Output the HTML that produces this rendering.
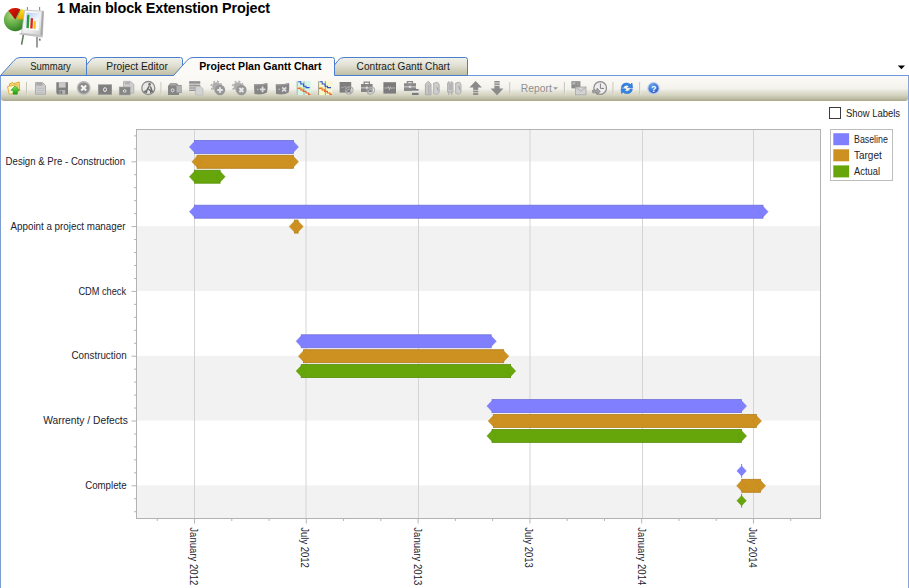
<!DOCTYPE html>
<html>
<head>
<meta charset="utf-8">
<title>1 Main block Extenstion Project</title>
<style>
html,body{margin:0;padding:0;background:#fff;}
body{width:909px;height:588px;overflow:hidden;position:relative;font-family:"Liberation Sans",sans-serif;}
#app{position:absolute;left:0;top:0;width:909px;height:588px;overflow:hidden;background:#fff;}
#title{position:absolute;left:57px;top:-0.3px;font-size:14.4px;font-weight:bold;color:#000;white-space:nowrap;letter-spacing:-0.12px;line-height:16px;}
#panel{position:absolute;left:0;top:75px;width:907px;height:520px;border:1px solid #6b98dc;border-left-color:#7c9ed2;border-right-color:#86a4d4;background:#fff;}
#toolbar{position:absolute;left:1px;top:76px;width:906.5px;height:25px;border-radius:0 0 3px 3px;
 background:linear-gradient(to bottom,#fbfaf6 0%,#f7f6f1 30%,#f2f1ec 52%,#e5e4da 60%,#d3d2bf 78%,#bab9a0 92%,#a9a88f 100%);}
svg{position:absolute;left:0;top:0;}
text{font-family:"Liberation Sans",sans-serif;}
</style>
</head>
<body>
<div id="app">
<div id="title">1 Main block Extenstion Project</div>
<div id="panel"></div>
<div id="toolbar"></div>

<!-- TABS -->
<svg id="tabs" width="909" height="110" viewBox="0 0 909 110">
<defs>
<linearGradient id="tg" x1="0" y1="0" x2="0" y2="1">
<stop offset="0" stop-color="#f3f2ec"/><stop offset="0.45" stop-color="#e0dfd2"/><stop offset="1" stop-color="#bebda2"/>
</linearGradient>
</defs>
<!-- tab 4 -->
<path d="M326.5 75.5 L338 60.5 Q340 57.5 344 57.5 L465.5 57.5 Q467.5 57.5 467.5 59.5 L467.5 75.5 Z" fill="url(#tg)" stroke="#4a7fd0" stroke-width="1"/>
<!-- tab 2 -->
<path d="M78.5 75.5 L90 60.5 Q92 57.5 96 57.5 L180.5 57.5 Q182.5 57.5 182.5 59.5 L182.5 75.5 Z" fill="url(#tg)" stroke="#4a7fd0" stroke-width="1"/>
<!-- tab 1 -->
<path d="M0.5 75.5 L14 60.5 Q16.5 57.5 20 57.5 L84.5 57.5 Q86.5 57.5 86.5 59.5 L86.5 75.5 Z" fill="url(#tg)" stroke="#4a7fd0" stroke-width="1"/>
<!-- tab 3 active -->
<path d="M173.5 76 L187 60.5 Q189.5 57.5 193 57.5 L332.5 57.5 Q334.5 57.5 334.5 59.5 L334.5 76 Z" fill="#fbfaf7" stroke="none"/>
<path d="M173.5 75.5 L187 60.5 Q189.5 57.5 193 57.5 L332.5 57.5 Q334.5 57.5 334.5 59.5 L334.5 75.5" fill="none" stroke="#4a7fd0" stroke-width="1"/>
<g font-size="10.5" fill="#1a1a1a">
<text x="30.3" y="70" textLength="40.5" lengthAdjust="spacingAndGlyphs">Summary</text>
<text x="106.3" y="70" textLength="61.5" lengthAdjust="spacingAndGlyphs">Project Editor</text>
<text x="199.3" y="70" textLength="122.2" lengthAdjust="spacingAndGlyphs" font-weight="bold" fill="#000">Project Plan Gantt Chart</text>
<text x="356.6" y="70" textLength="93.2" lengthAdjust="spacingAndGlyphs">Contract Gantt Chart</text>
</g>
<!-- dropdown arrow -->
<path d="M897.8 65.6 L905 65.6 L901.4 69.3 Z" fill="#000"/>
</svg>

<!--LOGO-->
<svg id="logo" width="60" height="54" viewBox="0 0 60 54">
<defs>
<radialGradient id="pg" cx="0.35" cy="0.3" r="0.85"><stop offset="0" stop-color="#a9d77c"/><stop offset="0.55" stop-color="#58a53e"/><stop offset="1" stop-color="#1f6b1c"/></radialGradient>
<linearGradient id="pr" x1="0" y1="0" x2="1" y2="1"><stop offset="0" stop-color="#f01808"/><stop offset="1" stop-color="#8e0a04"/></linearGradient>
<linearGradient id="py" x1="0" y1="0" x2="0" y2="1"><stop offset="0" stop-color="#ffe818"/><stop offset="1" stop-color="#eaa408"/></linearGradient>
<linearGradient id="bd" x1="0" y1="0" x2="1" y2="1"><stop offset="0" stop-color="#ffffff"/><stop offset="0.6" stop-color="#ececec"/><stop offset="1" stop-color="#c4c4c4"/></linearGradient>
<linearGradient id="sc" x1="0" y1="0" x2="0.6" y2="1"><stop offset="0" stop-color="#a9c6ee"/><stop offset="0.6" stop-color="#eef4fc"/><stop offset="1" stop-color="#ffffff"/></linearGradient>
</defs>
<!-- pie -->
<circle cx="15.3" cy="19.8" r="11.4" fill="url(#pg)"/>
<path d="M15.3 19.4 L8.3 10.4 A11.4 11.4 0 0 1 20.2 9.2 Z" fill="url(#pr)"/>
<path d="M17 19.2 L21.3 8.6 A11.4 11.4 0 0 1 28 17.2 L26 19.4 Z" fill="url(#py)"/>
<!-- easel -->
<path d="M27.4 10.4 V7 M39.6 10.4 V7" stroke="#8f8f8f" stroke-width="1.1"/>
<path d="M23.4 34.6 L21.6 44.6" stroke="#5f7f58" stroke-width="1.6"/>
<path d="M37 37 L37 47.6" stroke="#8c8c8c" stroke-width="1.7"/>
<path d="M39.6 38.6 L40 40.6" stroke="#666" stroke-width="1.5"/>
<path d="M24.6 10.2 L43.6 11.2 L42.4 35.6 L21.6 33.2 Z" fill="url(#bd)" stroke="#b4b4b4" stroke-width="0.7"/>
<path d="M41.8 11.4 L43.6 11.4 L42.4 35.6 L40.4 35.2 Z" fill="#a9a9a9"/>
<path d="M19.6 33 L42.8 35.8 L42.6 37.4 L19.4 34.4 Z" fill="#bfbfbf"/>
<path d="M26.6 12.8 L39.4 13.2 L38.6 30.4 L24.2 29.4 Z" fill="url(#sc)"/>
<path d="M27.2 15.2 Q28.4 14.4 29.4 15.2 L28.8 28.2 L26.4 28 Z" fill="#249a3a"/>
<path d="M30.8 18.4 Q32 17.6 33 18.4 L32.6 28.6 L30.2 28.4 Z" fill="#e0201a"/>
<path d="M33.8 21.2 Q34.8 20.6 35.8 21.2 L35.6 29 L33.4 28.8 Z" fill="#f0c010"/>
</svg>

<!--/LOGO-->
<!--ICONS-->
<svg id="icons" width="909" height="110" viewBox="0 0 909 110">
<defs>
<linearGradient id="fold" x1="0" y1="0" x2="1" y2="1"><stop offset="0" stop-color="#fff3b8"/><stop offset="1" stop-color="#e9b93a"/></linearGradient>
<linearGradient id="garr" x1="0" y1="0" x2="0" y2="1"><stop offset="0" stop-color="#7be85a"/><stop offset="1" stop-color="#16a012"/></linearGradient>
<radialGradient id="helpg" cx="0.4" cy="0.3" r="0.8"><stop offset="0" stop-color="#6aa8f4"/><stop offset="1" stop-color="#1c54c4"/></radialGradient>
</defs>
<!-- separators -->
<g stroke="#c5c3b2" stroke-width="1">
<line x1="26.5" y1="82" x2="26.5" y2="94.5"/><line x1="161" y1="82" x2="161" y2="94.5"/><line x1="509.8" y1="82" x2="509.8" y2="94.5"/>
<line x1="564.4" y1="82" x2="564.4" y2="94.5"/><line x1="613" y1="82" x2="613" y2="94.5"/><line x1="639.7" y1="82" x2="639.7" y2="94.5"/>
</g>
<g stroke="#fdfdfb" stroke-width="1" opacity="0.35">
<line x1="27.5" y1="82.5" x2="27.5" y2="95"/><line x1="162" y1="82.5" x2="162" y2="95"/><line x1="510.8" y1="82.5" x2="510.8" y2="95"/>
<line x1="565.4" y1="82.5" x2="565.4" y2="95"/><line x1="614" y1="82.5" x2="614" y2="95"/><line x1="640.7" y1="82.5" x2="640.7" y2="95"/>
</g>
<!-- 1 folder -->
<g>
<path d="M9.4 84 L12.6 82.4 L14 83.6 L19.2 82 L19.7 90.6 L10.4 93.4 Z" fill="#f6d777" stroke="#d9a528" stroke-width="0.9"/>
<path d="M7.5 86.6 L16.9 84.6 L17.8 92.6 L9.3 94.4 Z" fill="#fff6d2" stroke="#e0ad2c" stroke-width="0.9"/>
<path d="M15.2 85.8 L19.4 90.3 L17.3 90.3 L17.3 94.2 L13.1 94.2 L13.1 90.3 L10.9 90.3 Z" fill="url(#garr)" stroke="#2a9a1c" stroke-width="0.6"/>
</g>
<!-- 2 page -->
<g>
<path d="M35.5 82.5 L42.5 82.5 L45.5 85.5 L45.5 94.3 L35.5 94.3 Z" fill="#cbcbcb" stroke="#a6a6a6" stroke-width="0.9"/>
<rect x="36.5" y="83" width="6" height="2.6" fill="#a9a9a9"/>
<path d="M37 88.5 H44 M37 90.5 H44 M37 92.5 H44" stroke="#bdbdbd" stroke-width="0.8"/>
</g>
<!-- 3 floppy -->
<g>
<path d="M56.3 82.2 H68 V94.4 H57.6 L56.3 93.1 Z" fill="#808080"/>
<rect x="58.8" y="82.2" width="6.8" height="5.4" fill="#c9c9c9"/>
<rect x="59.6" y="90" width="5.6" height="4.4" fill="#b4b4b4"/>
<rect x="60.4" y="90.9" width="1.8" height="2.9" fill="#767676"/>
</g>
<!-- 4 circle x -->
<g>
<circle cx="83.7" cy="88" r="6.9" fill="#b9b9b9"/>
<circle cx="83.7" cy="88" r="5.6" fill="#8c8c8c"/>
<path d="M81.2 85.5 L86.2 90.5 M86.2 85.5 L81.2 90.5" stroke="#f4f4f4" stroke-width="2"/>
</g>
<!-- 5 rect 0 -->
<g>
<rect x="98" y="84.3" width="14" height="10.6" fill="#9c9c9c"/>
<rect x="98.8" y="85.1" width="12.4" height="9" fill="#808080"/>
<ellipse cx="105" cy="89.6" rx="1.5" ry="1.9" fill="none" stroke="#f0f0f0" stroke-width="1"/>
</g>
<!-- 6 page + rect -->
<g>
<path d="M123.5 81.4 L130.8 81.4 L133.8 84.4 L133.8 93.2 L123.5 93.2 Z" fill="#cdcdcd" stroke="#a9a9a9" stroke-width="0.8"/>
<rect x="125" y="82.2" width="5" height="2" fill="#adadad"/>
<rect x="119.2" y="87" width="11" height="8" fill="#868686" stroke="#a4a4a4" stroke-width="0.6"/>
<ellipse cx="124.7" cy="91" rx="1.4" ry="1.3" fill="none" stroke="#e6e6e6" stroke-width="0.9"/>
</g>
<!-- 7 circle worker -->
<g>
<circle cx="148.3" cy="88" r="6.5" fill="#e9e9e6" stroke="#8c8c8c" stroke-width="1.3"/>
<circle cx="149.6" cy="84.4" r="1.3" fill="#6c6c6c"/>
<path d="M149.2 86 L147 90 L146.2 93 M148.4 89.2 L150.6 90.6 L150.8 93.2 M150.4 86.6 L152.6 92.6" stroke="#6c6c6c" stroke-width="1.5" fill="none"/>
<path d="M143.2 92.8 L145.2 89.8 L147.2 92.8 Z" fill="#747474"/>
</g>
<!-- 8 camera -->
<g>
<path d="M168 86 L170.2 83.2 L176.5 83.2 L178.5 85 L181.6 85 L181.6 93 L179 93 L179 95 L168 95 Z" fill="#858585"/>
<path d="M176.5 85.6 L181 85.6 L181 92.4 L176.5 92.4 Z" fill="#b3b3b3"/>
<path d="M170.3 84 L176 84 L177.6 85.4 L169.4 85.4 Z" fill="#a7a7a7"/>
<ellipse cx="172.6" cy="90.3" rx="1.4" ry="1.5" fill="none" stroke="#eaeaea" stroke-width="0.9"/>
</g>
<!-- 9 table + page -->
<g>
<rect x="189.2" y="81.3" width="11" height="9.6" fill="#c9c9c9"/>
<rect x="189.2" y="81.3" width="11" height="2.2" fill="#8d8d8d"/>
<path d="M189.2 85.6 H200.2 M189.2 88 H200.2 M189.2 90.4 H196" stroke="#8f8f8f" stroke-width="1"/>
<path d="M194.8 81.3 V90.6" stroke="#a5a5a5" stroke-width="0.6"/>
<path d="M195.6 86.4 L200.6 86.4 L203 88.8 L203 95 L195.6 95 Z" fill="#d3d3d3" stroke="#b5b5b5" stroke-width="0.7"/>
</g>
<!-- 10 gear + -->
<g>
<circle cx="216.4" cy="86.4" r="4.1" fill="#adadad"/>
<circle cx="216.4" cy="86.4" r="5.1" fill="none" stroke="#b3b3b3" stroke-width="1.7" stroke-dasharray="2 2"/>
<circle cx="220" cy="90" r="5.2" fill="#979797"/>
</g>
<path d="M220 87.2 V92.8 M217.2 90 H222.8" stroke="#e4e4e4" stroke-width="1.9"/>
<!-- 11 gear x -->
<g transform="translate(21.4 0)">
<circle cx="216.4" cy="86.4" r="4.1" fill="#adadad"/>
<circle cx="216.4" cy="86.4" r="5.1" fill="none" stroke="#b3b3b3" stroke-width="1.7" stroke-dasharray="2 2"/>
<circle cx="220" cy="90" r="5.2" fill="#979797"/>
</g>
<path d="M239.4 88 L243.4 92 M243.4 88 L239.4 92" stroke="#e9e9e9" stroke-width="1.8"/>
<!-- 12 rect + -->
<g>
<path d="M254 84.2 Q260.5 84.8 267.4 83 Q268 88.5 267 92.5 Q262.5 95.3 254.4 94 Z" fill="#858585"/>
<path d="M254.6 85 Q260.5 85.6 266.8 83.9" stroke="#a4a4a4" stroke-width="0.8" fill="none"/>
</g>
<path d="M262.6 86.6 V92.2 M259.8 89.4 H265.4" stroke="#dcdcdc" stroke-width="1.8"/>
<circle cx="257.6" cy="89.4" r="0.9" fill="#b5b5b5"/>
<!-- 13 rect x -->
<g transform="translate(21.7 0)">
<path d="M254 84.2 Q260.5 84.8 267.4 83 Q268 88.5 267 92.5 Q262.5 95.3 254.4 94 Z" fill="#858585"/>
<path d="M254.6 85 Q260.5 85.6 266.8 83.9" stroke="#a4a4a4" stroke-width="0.8" fill="none"/>
</g>
<path d="M282.2 87.4 L286.2 91.4 M286.2 87.4 L282.2 91.4" stroke="#dcdcdc" stroke-width="1.7"/>
<circle cx="279.2" cy="89.4" r="0.9" fill="#b5b5b5"/>
<!-- 14 chart cyan -->
<g>
<rect x="296.6" y="81.2" width="14.2" height="13.8" fill="#d4f4e6"/>
<path d="M297.2 81.2 V95 M304 81.2 V95" stroke="#9aa7a0" stroke-width="0.8"/>
<path d="M298.2 81.8 H300.8 V84 H303.6 V86.2 H306 V87.6 H309.6" stroke="#2a50d4" stroke-width="1.05" fill="none"/>
<path d="M297.6 88.4 H300.8 V89.8 H303.2 V91.4 H306 V93 H308.6 V94.4 H310.6" stroke="#e8632a" stroke-width="1.15" fill="none"/>
<path d="M297.6 87.6 H300.8 V89 H303.2" stroke="#f0b64a" stroke-width="0.8" fill="none"/>
</g>
<!-- 15 chart yellow -->
<g transform="translate(21.4 0)">
<rect x="296.6" y="81.2" width="14.2" height="13.8" fill="#f7f7c9"/>
<path d="M297.2 81.2 V95 M304 81.2 V95" stroke="#8a8a78" stroke-width="0.8"/>
<path d="M298.2 81.8 H300.8 V84 H303.6 V86.2 H306 V87.6 H309.6" stroke="#2a50d4" stroke-width="1.05" fill="none"/>
<path d="M297.6 88.4 H300.8 V89.8 H303.2 V91.4 H306 V93 H308.6 V94.4 H310.6" stroke="#e8632a" stroke-width="1.15" fill="none"/>
<path d="M297.6 87.6 H300.8 V89 H303.2" stroke="#f0b64a" stroke-width="0.8" fill="none"/>
</g>
<!-- 16 dark rect + clip -->
<g>
<rect x="339.6" y="82" width="11.6" height="10.6" fill="#7e7e7e"/>
<path d="M341 87.4 H344 L345 86 L346.2 88.8 L347 87.4 H349.6" stroke="#a8a8a8" stroke-width="0.8" fill="none"/>
<ellipse cx="349.2" cy="90.4" rx="4" ry="3.4" fill="none" stroke="#a6a6a6" stroke-width="1.1" transform="rotate(-35 349.2 90.4)"/>
<ellipse cx="348.6" cy="91" rx="2.2" ry="1.7" fill="none" stroke="#b4b4b4" stroke-width="0.9" transform="rotate(-35 348.6 91)"/>
</g>
<!-- 17 briefcase + clip -->
<g>
<path d="M364.2 84.2 V82.2 H369.4 V84.2" stroke="#858585" stroke-width="1.3" fill="none"/>
<rect x="361" y="84" width="11.6" height="8" fill="#858585"/>
<rect x="361" y="87.2" width="11.6" height="1.2" fill="#c4c4c4"/>
<rect x="365.8" y="86.6" width="2.2" height="2.4" fill="#d9d9d9"/>
<ellipse cx="370.8" cy="90.6" rx="4" ry="3.4" fill="none" stroke="#a8a8a8" stroke-width="1.1" transform="rotate(-35 370.8 90.6)"/>
<ellipse cx="370.2" cy="91.2" rx="2.2" ry="1.7" fill="none" stroke="#b8b8b8" stroke-width="0.9" transform="rotate(-35 370.2 91.2)"/>
</g>
<!-- 18 dark rect wave -->
<g>
<rect x="383.4" y="82.2" width="12.6" height="11.4" fill="#7c7c7c"/>
<path d="M384.4 88 H387.6 L388.4 86.4 L389.4 89.8 L390.4 86.8 L391.2 88.6 L391.8 88 H395" stroke="#c9c9c9" stroke-width="0.8" fill="none"/>
</g>
<!-- 19 briefcase + rect -->
<g>
<path d="M407.4 83.4 V81.6 H412.4 V83.4" stroke="#8a8a8a" stroke-width="1.3" fill="none"/>
<rect x="404" y="83.2" width="12" height="7.8" fill="#8a8a8a"/>
<rect x="404" y="86.2" width="12" height="1.2" fill="#c6c6c6"/>
<rect x="408.8" y="85.6" width="2.2" height="2.4" fill="#dadada"/>
<rect x="412" y="89" width="6.6" height="6" fill="#e6e6e6"/>
<rect x="412" y="89" width="6.6" height="1.6" fill="#7a7a7a"/>
<rect x="412" y="92.8" width="6.6" height="2.2" fill="#7a7a7a"/>
</g>
<!-- 20 columns -->
<g>
<path d="M425.4 84.2 L428.2 81.2 L431 84.2 V94.8 H425.4 Z" fill="#c6c6c6" stroke="#a2a2a2" stroke-width="0.8"/>
<path d="M433.6 83.2 L437.6 82.2 L439.2 84.4 V92.6 L436.8 94.6 L433.6 93.4 Z" fill="#cdcdcd" stroke="#a7a7a7" stroke-width="0.8"/>
<path d="M428.8 85 V94" stroke="#adadad" stroke-width="1"/>
<path d="M436.8 87 L438.4 90.6" stroke="#9a9a9a" stroke-width="0.9"/>
</g>
<!-- 21 columns2 -->
<g>
<path d="M447.6 82.8 H453 V92.2 H447.6 Z" fill="#c9c9c9" stroke="#a2a2a2" stroke-width="0.8"/>
<path d="M448.8 81.2 V82.8 M451.8 81.2 V82.8 M448.8 92.2 V95 M451.8 92.2 V95" stroke="#a2a2a2" stroke-width="0.9"/>
<rect x="448.6" y="84" width="3.4" height="6" fill="#b5b5b5"/>
<path d="M455.6 83 L459.6 82.2 L461 84.4 V92.4 L458.8 94.4 L455.6 93.2 Z" fill="#cdcdcd" stroke="#a7a7a7" stroke-width="0.8"/>
<path d="M458.6 86 L460.2 90" stroke="#9a9a9a" stroke-width="0.9"/>
</g>
<!-- 22 up arrow -->
<g>
<path d="M475.6 81 L481.9 87.4 H478.2 V95 H473.2 V87.4 H469.4 Z" fill="#8b8b8b"/>
<path d="M473.2 90.4 H478.2 M473.2 92.7 H478.2" stroke="#d7d6cb" stroke-width="0.9"/>
</g>
<!-- 23 down arrow -->
<g>
<path d="M497 95.2 L503.4 88.6 H499.6 V81 H494.4 V88.6 H490.6 Z" fill="#8b8b8b"/>
<path d="M494.4 83 H499.6 M494.4 85.4 H499.6" stroke="#efeee8" stroke-width="0.9"/>
</g>
<!-- Report -->
<text x="520.8" y="91.6" font-size="11" fill="#8f8f8f" textLength="31" lengthAdjust="spacingAndGlyphs">Report</text>
<path d="M553 87.2 H558 L555.5 89.8 Z" fill="#9a9a9a"/>
<!-- 24 mail -->
<g>
<rect x="571.4" y="81.2" width="9" height="7.2" fill="#8c8c8c"/>
<rect x="572.4" y="82.2" width="3" height="2.4" fill="#b8b8b8"/>
<path d="M576.6 83 H579.4 M576.6 84.6 H579.4" stroke="#b0b0b0" stroke-width="0.7"/>
<rect x="575.4" y="87" width="10.6" height="7.8" fill="#d2d2d2" stroke="#a6a6a6" stroke-width="0.8"/>
<path d="M575.4 87 L580.7 91.4 L586 87" stroke="#a6a6a6" stroke-width="0.8" fill="none"/>
</g>
<!-- 25 clock -->
<g>
<circle cx="600.2" cy="88" r="6.3" fill="#ededed" stroke="#8c8c8c" stroke-width="1.2"/>
<path d="M600.4 83.6 V88.4 H604" stroke="#808080" stroke-width="1" fill="none"/>
<path d="M592.6 90 H597 V88 L600.4 91.4 L597 94.8 V92.8 H592.6 Z" fill="#a2a2a2" stroke="#7f7f7f" stroke-width="0.6"/>
</g>
<!-- 26 refresh -->
<g>
<path d="M621.2 87.4 Q622 83.2 626.4 83 Q629 83 630.6 84.6 L632 83 L632.6 88 L627.6 87.6 L629 86.2 Q628 85.2 626.4 85.2 Q623.8 85.4 623.4 87.6 Z" fill="#2f86e8" stroke="#1b5cc2" stroke-width="0.5"/>
<path d="M632.4 89.2 Q631.6 93.4 627.2 93.6 Q624.6 93.6 623 92 L621.6 93.6 L621 88.6 L626 89 L624.6 90.4 Q625.6 91.4 627.2 91.4 Q629.8 91.2 630.2 89 Z" fill="#2f86e8" stroke="#1b5cc2" stroke-width="0.5"/>
</g>
<!-- 27 help -->
<g>
<circle cx="653.5" cy="88.3" r="6.2" fill="#b7cbea"/>
<circle cx="653.5" cy="88.3" r="5" fill="url(#helpg)"/>
<text x="651.2" y="91.6" font-size="8.5" font-weight="bold" fill="#fff">?</text>
</g>
</svg>

<!--/ICONS-->
<!--CHART-->
<svg id="chart" width="909" height="588" viewBox="0 0 909 588">
<rect x="136.5" y="129.5" width="684.0" height="389.0" fill="#fff"/>
<rect x="136.5" y="129.50" width="684.0" height="31.90" fill="#f2f2f2"/>
<rect x="136.5" y="226.20" width="684.0" height="64.80" fill="#f2f2f2"/>
<rect x="136.5" y="355.80" width="684.0" height="64.80" fill="#f2f2f2"/>
<rect x="136.5" y="485.40" width="684.0" height="33.10" fill="#f2f2f2"/>
<line x1="194.5" y1="129.5" x2="194.5" y2="518.5" stroke="#d4d4d4" stroke-width="1"/>
<line x1="306" y1="129.5" x2="306" y2="518.5" stroke="#d4d4d4" stroke-width="1"/>
<line x1="418.5" y1="129.5" x2="418.5" y2="518.5" stroke="#d4d4d4" stroke-width="1"/>
<line x1="530" y1="129.5" x2="530" y2="518.5" stroke="#d4d4d4" stroke-width="1"/>
<line x1="642.5" y1="129.5" x2="642.5" y2="518.5" stroke="#d4d4d4" stroke-width="1"/>
<line x1="753.5" y1="129.5" x2="753.5" y2="518.5" stroke="#d4d4d4" stroke-width="1"/>
<rect x="194.50" y="140.40" width="98.90" height="13.00" fill="#8080ff" stroke="#6e6edc" stroke-width="0.8"/><path d="M189.40 146.90 L194.10 141.90 L198.80 146.90 L194.10 151.90 Z" fill="#8080ff" stroke="#7878f0" stroke-width="0.5"/><path d="M289.10 146.90 L293.80 141.90 L298.50 146.90 L293.80 151.90 Z" fill="#8080ff" stroke="#7878f0" stroke-width="0.5"/>
<rect x="197.00" y="155.30" width="96.40" height="13.00" fill="#cd9122" stroke="#b37e1d" stroke-width="0.8"/><path d="M191.90 161.80 L196.60 156.80 L201.30 161.80 L196.60 166.80 Z" fill="#cd9122" stroke="#c2891f" stroke-width="0.5"/><path d="M289.10 161.80 L293.80 156.80 L298.50 161.80 L293.80 166.80 Z" fill="#cd9122" stroke="#c2891f" stroke-width="0.5"/>
<rect x="194.50" y="170.20" width="25.60" height="13.00" fill="#66a60b" stroke="#588f0a" stroke-width="0.8"/><path d="M189.40 176.70 L194.10 171.70 L198.80 176.70 L194.10 181.70 Z" fill="#66a60b" stroke="#5f9b0a" stroke-width="0.5"/><path d="M215.80 176.70 L220.50 171.70 L225.20 176.70 L220.50 181.70 Z" fill="#66a60b" stroke="#5f9b0a" stroke-width="0.5"/>
<rect x="194.50" y="205.20" width="568.50" height="13.00" fill="#8080ff" stroke="#6e6edc" stroke-width="0.8"/><path d="M189.40 211.70 L194.10 206.70 L198.80 211.70 L194.10 216.70 Z" fill="#8080ff" stroke="#7878f0" stroke-width="0.5"/><path d="M758.70 211.70 L763.40 206.70 L768.10 211.70 L763.40 216.70 Z" fill="#8080ff" stroke="#7878f0" stroke-width="0.5"/>
<rect x="294.40" y="220.10" width="3.70" height="13.00" fill="#cd9122" stroke="#b37e1d" stroke-width="0.8"/><path d="M289.30 226.60 L294.00 221.60 L298.70 226.60 L294.00 231.60 Z" fill="#cd9122" stroke="#c2891f" stroke-width="0.5"/><path d="M293.80 226.60 L298.50 221.60 L303.20 226.60 L298.50 231.60 Z" fill="#cd9122" stroke="#c2891f" stroke-width="0.5"/>
<rect x="301.20" y="334.80" width="190.00" height="13.00" fill="#8080ff" stroke="#6e6edc" stroke-width="0.8"/><path d="M296.10 341.30 L300.80 336.30 L305.50 341.30 L300.80 346.30 Z" fill="#8080ff" stroke="#7878f0" stroke-width="0.5"/><path d="M486.90 341.30 L491.60 336.30 L496.30 341.30 L491.60 346.30 Z" fill="#8080ff" stroke="#7878f0" stroke-width="0.5"/>
<rect x="303.50" y="349.70" width="200.20" height="13.00" fill="#cd9122" stroke="#b37e1d" stroke-width="0.8"/><path d="M298.40 356.20 L303.10 351.20 L307.80 356.20 L303.10 361.20 Z" fill="#cd9122" stroke="#c2891f" stroke-width="0.5"/><path d="M499.40 356.20 L504.10 351.20 L508.80 356.20 L504.10 361.20 Z" fill="#cd9122" stroke="#c2891f" stroke-width="0.5"/>
<rect x="301.20" y="364.60" width="209.40" height="13.00" fill="#66a60b" stroke="#588f0a" stroke-width="0.8"/><path d="M296.10 371.10 L300.80 366.10 L305.50 371.10 L300.80 376.10 Z" fill="#66a60b" stroke="#5f9b0a" stroke-width="0.5"/><path d="M506.30 371.10 L511.00 366.10 L515.70 371.10 L511.00 376.10 Z" fill="#66a60b" stroke="#5f9b0a" stroke-width="0.5"/>
<rect x="492.00" y="399.60" width="249.50" height="13.00" fill="#8080ff" stroke="#6e6edc" stroke-width="0.8"/><path d="M486.90 406.10 L491.60 401.10 L496.30 406.10 L491.60 411.10 Z" fill="#8080ff" stroke="#7878f0" stroke-width="0.5"/><path d="M737.20 406.10 L741.90 401.10 L746.60 406.10 L741.90 411.10 Z" fill="#8080ff" stroke="#7878f0" stroke-width="0.5"/>
<rect x="493.30" y="414.50" width="263.10" height="13.00" fill="#cd9122" stroke="#b37e1d" stroke-width="0.8"/><path d="M488.20 421.00 L492.90 416.00 L497.60 421.00 L492.90 426.00 Z" fill="#cd9122" stroke="#c2891f" stroke-width="0.5"/><path d="M752.10 421.00 L756.80 416.00 L761.50 421.00 L756.80 426.00 Z" fill="#cd9122" stroke="#c2891f" stroke-width="0.5"/>
<rect x="492.00" y="429.40" width="249.50" height="13.00" fill="#66a60b" stroke="#588f0a" stroke-width="0.8"/><path d="M486.90 435.90 L491.60 430.90 L496.30 435.90 L491.60 440.90 Z" fill="#66a60b" stroke="#5f9b0a" stroke-width="0.5"/><path d="M737.20 435.90 L741.90 430.90 L746.60 435.90 L741.90 440.90 Z" fill="#66a60b" stroke="#5f9b0a" stroke-width="0.5"/>
<rect x="741.1" y="464.00" width="1" height="13.8" fill="#8080ff"/><path d="M736.90 470.90 L741.60 465.90 L746.30 470.90 L741.60 475.90 Z" fill="#8080ff" stroke="#7878f0" stroke-width="0.5"/>
<rect x="741.70" y="479.30" width="18.80" height="13.00" fill="#cd9122" stroke="#b37e1d" stroke-width="0.8"/><path d="M736.60 485.80 L741.30 480.80 L746.00 485.80 L741.30 490.80 Z" fill="#cd9122" stroke="#c2891f" stroke-width="0.5"/><path d="M756.20 485.80 L760.90 480.80 L765.60 485.80 L760.90 490.80 Z" fill="#cd9122" stroke="#c2891f" stroke-width="0.5"/>
<rect x="741.1" y="493.80" width="1" height="13.8" fill="#66a60b"/><path d="M736.90 500.70 L741.60 495.70 L746.30 500.70 L741.60 505.70 Z" fill="#66a60b" stroke="#5f9b0a" stroke-width="0.5"/>
<rect x="136.5" y="129.5" width="684.0" height="389.0" fill="none" stroke="#b2b2b2" stroke-width="1"/>
<line x1="134" y1="135.88" x2="136" y2="135.88" stroke="#b4b4b4"/>
<line x1="134" y1="148.84" x2="136" y2="148.84" stroke="#b4b4b4"/>
<line x1="131.5" y1="161.80" x2="136" y2="161.80" stroke="#b4b4b4"/>
<line x1="134" y1="174.76" x2="136" y2="174.76" stroke="#b4b4b4"/>
<line x1="134" y1="187.72" x2="136" y2="187.72" stroke="#b4b4b4"/>
<line x1="134" y1="200.68" x2="136" y2="200.68" stroke="#b4b4b4"/>
<line x1="134" y1="213.64" x2="136" y2="213.64" stroke="#b4b4b4"/>
<line x1="131.5" y1="226.60" x2="136" y2="226.60" stroke="#b4b4b4"/>
<line x1="134" y1="239.56" x2="136" y2="239.56" stroke="#b4b4b4"/>
<line x1="134" y1="252.52" x2="136" y2="252.52" stroke="#b4b4b4"/>
<line x1="134" y1="265.48" x2="136" y2="265.48" stroke="#b4b4b4"/>
<line x1="134" y1="278.44" x2="136" y2="278.44" stroke="#b4b4b4"/>
<line x1="131.5" y1="291.40" x2="136" y2="291.40" stroke="#b4b4b4"/>
<line x1="134" y1="304.36" x2="136" y2="304.36" stroke="#b4b4b4"/>
<line x1="134" y1="317.32" x2="136" y2="317.32" stroke="#b4b4b4"/>
<line x1="134" y1="330.28" x2="136" y2="330.28" stroke="#b4b4b4"/>
<line x1="134" y1="343.24" x2="136" y2="343.24" stroke="#b4b4b4"/>
<line x1="131.5" y1="356.20" x2="136" y2="356.20" stroke="#b4b4b4"/>
<line x1="134" y1="369.16" x2="136" y2="369.16" stroke="#b4b4b4"/>
<line x1="134" y1="382.12" x2="136" y2="382.12" stroke="#b4b4b4"/>
<line x1="134" y1="395.08" x2="136" y2="395.08" stroke="#b4b4b4"/>
<line x1="134" y1="408.04" x2="136" y2="408.04" stroke="#b4b4b4"/>
<line x1="131.5" y1="421.00" x2="136" y2="421.00" stroke="#b4b4b4"/>
<line x1="134" y1="433.96" x2="136" y2="433.96" stroke="#b4b4b4"/>
<line x1="134" y1="446.92" x2="136" y2="446.92" stroke="#b4b4b4"/>
<line x1="134" y1="459.88" x2="136" y2="459.88" stroke="#b4b4b4"/>
<line x1="134" y1="472.84" x2="136" y2="472.84" stroke="#b4b4b4"/>
<line x1="131.5" y1="485.80" x2="136" y2="485.80" stroke="#b4b4b4"/>
<line x1="134" y1="498.76" x2="136" y2="498.76" stroke="#b4b4b4"/>
<line x1="134" y1="511.72" x2="136" y2="511.72" stroke="#b4b4b4"/>
<line x1="157.23" y1="519" x2="157.23" y2="521" stroke="#b4b4b4"/>
<line x1="194.50" y1="519" x2="194.50" y2="523.5" stroke="#b4b4b4"/>
<line x1="231.77" y1="519" x2="231.77" y2="521" stroke="#b4b4b4"/>
<line x1="269.03" y1="519" x2="269.03" y2="521" stroke="#b4b4b4"/>
<line x1="306.30" y1="519" x2="306.30" y2="523.5" stroke="#b4b4b4"/>
<line x1="343.57" y1="519" x2="343.57" y2="521" stroke="#b4b4b4"/>
<line x1="380.83" y1="519" x2="380.83" y2="521" stroke="#b4b4b4"/>
<line x1="418.10" y1="519" x2="418.10" y2="523.5" stroke="#b4b4b4"/>
<line x1="455.37" y1="519" x2="455.37" y2="521" stroke="#b4b4b4"/>
<line x1="492.63" y1="519" x2="492.63" y2="521" stroke="#b4b4b4"/>
<line x1="529.90" y1="519" x2="529.90" y2="523.5" stroke="#b4b4b4"/>
<line x1="567.17" y1="519" x2="567.17" y2="521" stroke="#b4b4b4"/>
<line x1="604.43" y1="519" x2="604.43" y2="521" stroke="#b4b4b4"/>
<line x1="641.70" y1="519" x2="641.70" y2="523.5" stroke="#b4b4b4"/>
<line x1="678.97" y1="519" x2="678.97" y2="521" stroke="#b4b4b4"/>
<line x1="716.23" y1="519" x2="716.23" y2="521" stroke="#b4b4b4"/>
<line x1="753.50" y1="519" x2="753.50" y2="523.5" stroke="#b4b4b4"/>
<line x1="790.77" y1="519" x2="790.77" y2="521" stroke="#b4b4b4"/>
<g font-size="10.5" fill="#22222e">
<text x="5.6" y="165.0" textLength="119.4" lengthAdjust="spacingAndGlyphs">Design &amp; Pre - Construction</text>
<text x="10.5" y="229.8" textLength="114.9" lengthAdjust="spacingAndGlyphs">Appoint a project manager</text>
<text x="78.4" y="294.6" textLength="47.7" lengthAdjust="spacingAndGlyphs">CDM check</text>
<text x="71.5" y="359.4" textLength="55.1" lengthAdjust="spacingAndGlyphs">Construction</text>
<text x="43.3" y="424.2" textLength="84.5" lengthAdjust="spacingAndGlyphs">Warrenty / Defects</text>
<text x="85.2" y="489.0" textLength="41.4" lengthAdjust="spacingAndGlyphs">Complete</text>
<text transform="translate(189.5 527.3) rotate(90)" textLength="58" lengthAdjust="spacingAndGlyphs">January 2012</text>
<text transform="translate(301.0 527.3) rotate(90)" textLength="40.5" lengthAdjust="spacingAndGlyphs">July 2012</text>
<text transform="translate(413.5 527.3) rotate(90)" textLength="58" lengthAdjust="spacingAndGlyphs">January 2013</text>
<text transform="translate(525.0 527.3) rotate(90)" textLength="40.5" lengthAdjust="spacingAndGlyphs">July 2013</text>
<text transform="translate(637.5 527.3) rotate(90)" textLength="58" lengthAdjust="spacingAndGlyphs">January 2014</text>
<text transform="translate(748.5 527.3) rotate(90)" textLength="40.5" lengthAdjust="spacingAndGlyphs">July 2014</text>
</g>
<rect x="830.5" y="129.5" width="62" height="51" fill="#fff" stroke="#bdbdbd"/>
<rect x="833.3" y="133.2" width="15.8" height="12" fill="#8080ff"/>
<text x="854" y="142.5" font-size="10.5" fill="#22222e" textLength="33.8" lengthAdjust="spacingAndGlyphs">Baseline</text>
<rect x="833.3" y="149.3" width="15.8" height="12" fill="#cd9122"/>
<text x="854" y="158.6" font-size="10.5" fill="#22222e" textLength="27.7" lengthAdjust="spacingAndGlyphs">Target</text>
<rect x="833.3" y="165.4" width="15.8" height="12" fill="#66a60b"/>
<text x="854" y="174.7" font-size="10.5" fill="#22222e" textLength="26" lengthAdjust="spacingAndGlyphs">Actual</text>
<rect x="829.5" y="107.5" width="11" height="11" fill="#fff" stroke="#3a3a3a"/>
<text x="846" y="116.6" font-size="10.5" fill="#1a1a1a" textLength="54" lengthAdjust="spacingAndGlyphs">Show Labels</text>
</svg>
<!--/CHART-->
</div>
</body>
</html>
